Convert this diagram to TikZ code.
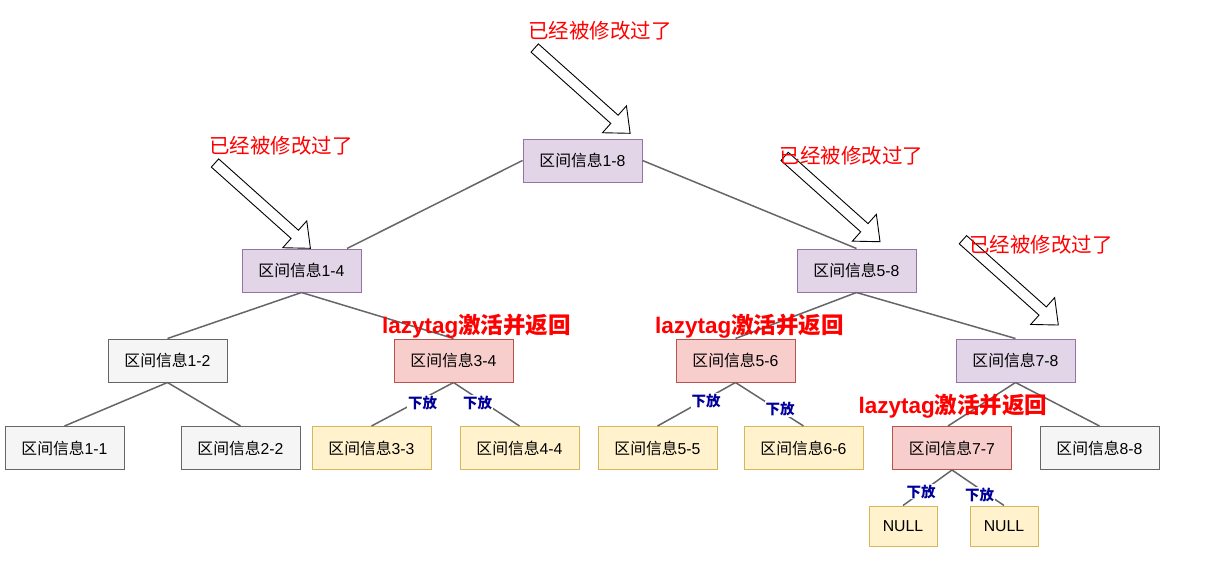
\documentclass[tikz,border=0pt]{standalone}
\usepackage{fontspec}
\setmainfont{Liberation Sans}
\newfontfamily\cjk{Noto Sans CJK SC}
\usetikzlibrary{calc}
\definecolor{purpF}{HTML}{E1D5E7}\definecolor{purpD}{HTML}{9673A6}
\definecolor{greyF}{HTML}{F5F5F5}\definecolor{greyD}{HTML}{666666}
\definecolor{redF}{HTML}{F8CECC}\definecolor{redD}{HTML}{B85450}
\definecolor{yelF}{HTML}{FFF2CC}\definecolor{yelD}{HTML}{D6B656}
\definecolor{edgeC}{HTML}{666666}
\definecolor{navyC}{HTML}{000099}
\newcommand\qj[1]{{\cjk 区间信息}#1}
\newcommand\blockarrow[1]{\draw[barrow,shift={#1},rotate=-41.8] (0,-5.5) -- (107,-5.5) -- (107,-18) -- (128,0) -- (107,18) -- (107,5.5) -- (0,5.5) -- cycle;}
\tikzset{
  box/.style={draw, line width=1pt, minimum width=119pt, minimum height=43pt, inner sep=0pt, font=\fontsize{15.8}{18}\selectfont},
  pbox/.style={box, fill=purpF, draw=purpD},
  gbox/.style={box, fill=greyF, draw=greyD},
  rbox/.style={box, fill=redF, draw=redD},
  ybox/.style={box, fill=yelF, draw=yelD},
  nbox/.style={ybox, minimum width=68pt, minimum height=40pt},
  edge/.style={draw=edgeC, line width=1.5pt},
  lbl/.style={fill=white, text=navyC, inner sep=1pt, font=\fontsize{14.5}{16}\selectfont\cjk\bfseries},
  modtxt/.style={text=red, inner sep=0pt, font=\fontsize{20.5}{24}\selectfont\cjk},
  lazytxt/.style={text=red, inner sep=0pt, font=\fontsize{22.5}{26}\selectfont\bfseries},
  barrow/.style={draw=black, fill=white, line width=0.9pt, line join=miter},
}
\begin{document}
\begin{tikzpicture}[x=1pt,y=-1pt]
\useasboundingbox (0,0) rectangle (1229,571);
% nodes
\node[pbox] (n18) at (582.5,160.5) {\qj{1-8}};
\node[pbox] (n14) at (301.5,270.5) {\qj{1-4}};
\node[pbox] (n58) at (856.5,270.5) {\qj{5-8}};
\node[gbox] (n12) at (167.5,360.5) {\qj{1-2}};
\node[rbox] (n34) at (453.5,360.5) {\qj{3-4}};
\node[rbox] (n56) at (735.5,360.5) {\qj{5-6}};
\node[pbox] (n78) at (1015.5,360.5) {\qj{7-8}};
\node[gbox] (n11) at (64.5,448) {\qj{1-1}};
\node[gbox] (n22) at (240.5,448) {\qj{2-2}};
\node[ybox] (n33) at (371.5,448) {\qj{3-3}};
\node[ybox] (n44) at (519.5,448) {\qj{4-4}};
\node[ybox] (n55) at (657.5,448) {\qj{5-5}};
\node[ybox] (n66) at (803.5,448) {\qj{6-6}};
\node[rbox] (n77) at (952,448) {\qj{7-7}};
\node[gbox] (n88) at (1099.5,448) {\qj{8-8}};
\node[nbox] (nl1) at (903,526) {NULL};
\node[nbox] (nl2) at (1004,526) {NULL};
% edges
\draw[edge] (n18.west) -- ([xshift=45.5pt]n14.north);
\draw[edge] (n18.east) -- (n58.north);
\draw[edge] (n14.south) -- (n12.north);
\draw[edge] (n14.south) -- (n34.north);
\draw[edge] (n58.south) -- (n56.north);
\draw[edge] (n58.south) -- (n78.north);
\draw[edge] (n12.south) -- (n11.north);
\draw[edge] (n12.south) -- (n22.north);
\draw[edge] (n34.south) -- (n33.north);
\draw[edge] (n34.south) -- (n44.north);
\draw[edge] (n56.south) -- (n55.north);
\draw[edge] (n56.south) -- (n66.north);
\draw[edge] (n78.south) -- ([xshift=-4pt]n77.north);
\draw[edge] (n78.south) -- (n88.north);
\draw[edge] (n77.south) -- (nl1.north);
\draw[edge] (n77.south) -- (nl2.north);
% edge labels
\node[lbl] (l1) at (422.5,403) {下放};
\node[lbl] (l2) at (477.5,403) {下放};
\node[lbl] (l3) at (706,401) {下放};
\node[lbl] (l4) at (780,409) {下放};
\node[lbl] (l5) at (921,491.5) {下放};
\node[lbl] (l6) at (979.5,494.5) {下放};
% block arrows
\blockarrow{(215,163)}
\blockarrow{(534.7,48)}
\blockarrow{(784.6,156.4)}
\blockarrow{(962.9,239.7)}
% annotations
\node[modtxt] (m1) at (600,31) {已经被修改过了};
\node[modtxt] (m2) at (281,146) {已经被修改过了};
\node[modtxt] (m3) at (851.5,156) {已经被修改过了};
\node[modtxt] (m4) at (1041,245) {已经被修改过了};
\node[lazytxt] (z1) at (476.5,326) {lazytag{\cjk\bfseries 激活并返回}};
\node[lazytxt] (z2) at (749.5,326) {lazytag{\cjk\bfseries 激活并返回}};
\node[lazytxt] (z3) at (953,406) {lazytag{\cjk\bfseries 激活并返回}};
\end{tikzpicture}
\end{document}
